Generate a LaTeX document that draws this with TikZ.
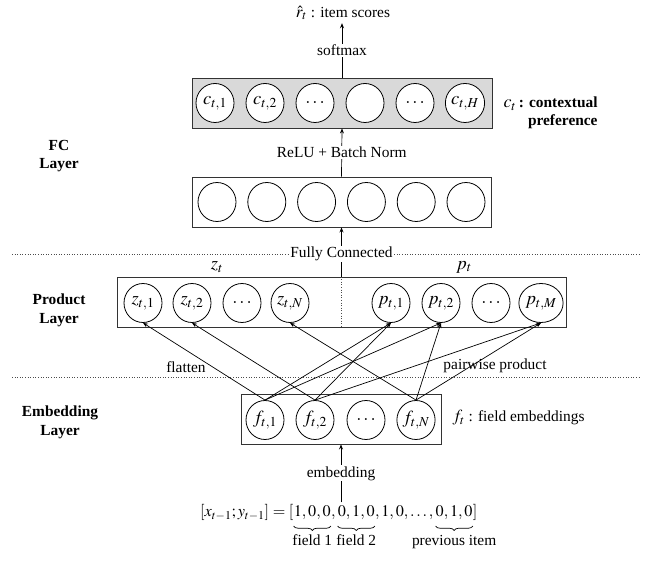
\documentclass[tikz,border=0pt]{standalone}
\usepackage{mathptmx}
\usepackage[no-math]{fontspec}
\setmainfont{Liberation Serif}
\usetikzlibrary{shapes.geometric,arrows.meta,fit,decorations.pathreplacing}
\begin{document}
\begin{tikzpicture}[x=1pt,y=-1pt,
  font=\fontsize{15.4}{18.5}\selectfont,
  box/.style={draw=black!80, line width=0.9pt, rectangle, minimum height=50pt, inner sep=0pt},
  unit/.style={draw, ellipse, line width=0.8pt, minimum width=38pt, minimum height=39pt, inner sep=0pt, fill=white, font=\fontsize{18.5}{22}\selectfont},
  arr/.style={-{Stealth[length=5pt,width=4pt]}, line width=0.7pt},
  lbl/.style={fill=white, inner sep=1pt},
  sepline/.style={dotted, draw=black!70, line width=0.6pt},
  side/.style={font=\fontsize{15.4}{18.5}\selectfont\bfseries, align=center},
  piece/.style={inner sep=0pt, anchor=base west, font=\fontsize{16.2}{19}\selectfont},
  brace/.style={decorate, decoration={brace, mirror, amplitude=4.5pt}, line width=0.7pt},
  bigmath/.style={font=\fontsize{18.5}{22}\selectfont}]
\useasboundingbox (0,0) rectangle (654,561);

% separators
\coordinate (s1l) at (12,254); \coordinate (s1r) at (641,254);
\coordinate (s2l) at (12,377); \coordinate (s2r) at (641,377);
\draw[sepline] (s1l) -- (s1r);
\draw[sepline] (s2l) -- (s2r);

% contextual layer
\node[box, fill=black!15, minimum width=300pt] (ctx) at (342,103) {};
\foreach \i/\t in {1/{$c_{t,1}$},2/{$c_{t,2}$},3/{$\dots$},4/{},5/{$\dots$},6/{$c_{t,H}$}}
  \node[unit] (c\i) at ({215+50*(\i-1)},103) {\t};

% hidden layer
\node[box, minimum width=299pt] (hid) at (341.5,202) {};
\foreach \i in {1,...,6}
  \node[unit] (h\i) at ({217+49.8*(\i-1)},202) {};

% product layer
\node[box, minimum width=449pt] (prod) at (341.5,302) {};
\draw[sepline] (prod.north) -- (prod.south);
\node[unit] (z1) at (143,303) {$z_{t,1}$};
\node[unit] (z2) at (192,303) {$z_{t,2}$};
\node[unit] (z3) at (242,303) {$\dots$};
\node[unit] (zN) at (290,303) {$z_{t,N}$};
\node[unit] (p1) at (391,303) {$p_{t,1}$};
\node[unit] (p2) at (441,303) {$p_{t,2}$};
\node[unit] (p3) at (491,303) {$\dots$};
\node[unit] (pM) at (541,303) {$p_{t,M}$};
\node[bigmath] (zt) at (217,267) {$z_t$};
\node[bigmath] (pt) at (464,267) {$p_t$};

% embedding layer
\node[box, minimum width=200pt] (emb) at (341,419) {};
\node[unit] (f1) at (265,420) {$f_{t,1}$};
\node[unit] (f2) at (315,420) {$f_{t,2}$};
\node[unit] (f3) at (366,420) {$\dots$};
\node[unit] (fN) at (416,420) {$f_{t,N}$};

% side labels
\node[side] (fcl) at (59,156) {FC\\Layer};
\node[side] (pl) at (59,310.5) {Product\\Layer};
\node[side] (el) at (60,422.5) {Embedding\\Layer};

\node[anchor=west, align=right] (ctxl) at (500,113) {{\fontsize{18}{18}\selectfont$c_t$}\,\textbf{: contextual}\\\textbf{preference}};
\node[anchor=west] (fl) at (449,418) {{\fontsize{17}{18}\selectfont$f_t$} : field embeddings};

% top output
\node[inner sep=3pt] (scores) at (343,13) {{\fontsize{17}{18}\selectfont$\hat{r}_t$}\ : item scores};
\draw[arr] (ctx.north) -- node[lbl]{softmax} (scores.south -| ctx.north);
\draw[arr] (hid.north) -- node[lbl]{ReLU + Batch Norm} (ctx.south);
\draw[arr] (prod.north) -- node[lbl, pos=0.46]{Fully Connected} (hid.south);

% flatten / pairwise
\node (flat) at (186,367) {flatten};
\node (pw) at (495,366) {pairwise product};
\draw[arr] (f1.north) -- (z1.south);
\draw[arr] (f2.north) -- (z2.south);
\draw[arr] (fN.north) -- (zN.south);
\draw[arr] (f1.north) -- (p1.south);
\draw[arr] (f2.north) -- (p1.south);
\draw[arr] (f1.north) -- (p2.south);
\draw[arr] (fN.north) -- (p2.south);
\draw[arr] (f2.north) -- (pM.south);
\draw[arr] (fN.north) -- (pM.south);

% input
\node[piece] (inA) at (200,517) {$[x_{t-1};y_{t-1}] = {}[$};
\node[piece] (inB) at (inA.base east) {$1,0,0$};
\node[piece] (inC) at (inB.base east) {$,\,$};
\node[piece] (inD) at (inC.base east) {$0,1,0$};
\node[piece] (inE) at (inD.base east) {$,1,0,\ldots,\,$};
\node[piece] (inF) at (inE.base east) {$0,1,0$};
\node[piece] (inG) at (inF.base east) {$]$};
\node[fit=(inA)(inG), inner sep=2pt] (input) {};
\draw[brace] ([yshift=-9pt]inB.base west) -- node[below=8.5pt, inner sep=0pt] (lab1) {field 1} ([yshift=-9pt]inB.base east);
\draw[brace] ([yshift=-9pt]inD.base west) -- node[below=8.5pt, inner sep=0pt] (lab2) {field 2} ([yshift=-9pt]inD.base east);
\draw[brace] ([yshift=-9pt]inF.base west) -- node[below=8.5pt, inner sep=0pt] (lab3) {previous item} ([yshift=-9pt]inF.base east);
\draw[arr] (input.north -| emb.south) -- node[lbl]{embedding} (emb.south);
\end{tikzpicture}
\end{document}
